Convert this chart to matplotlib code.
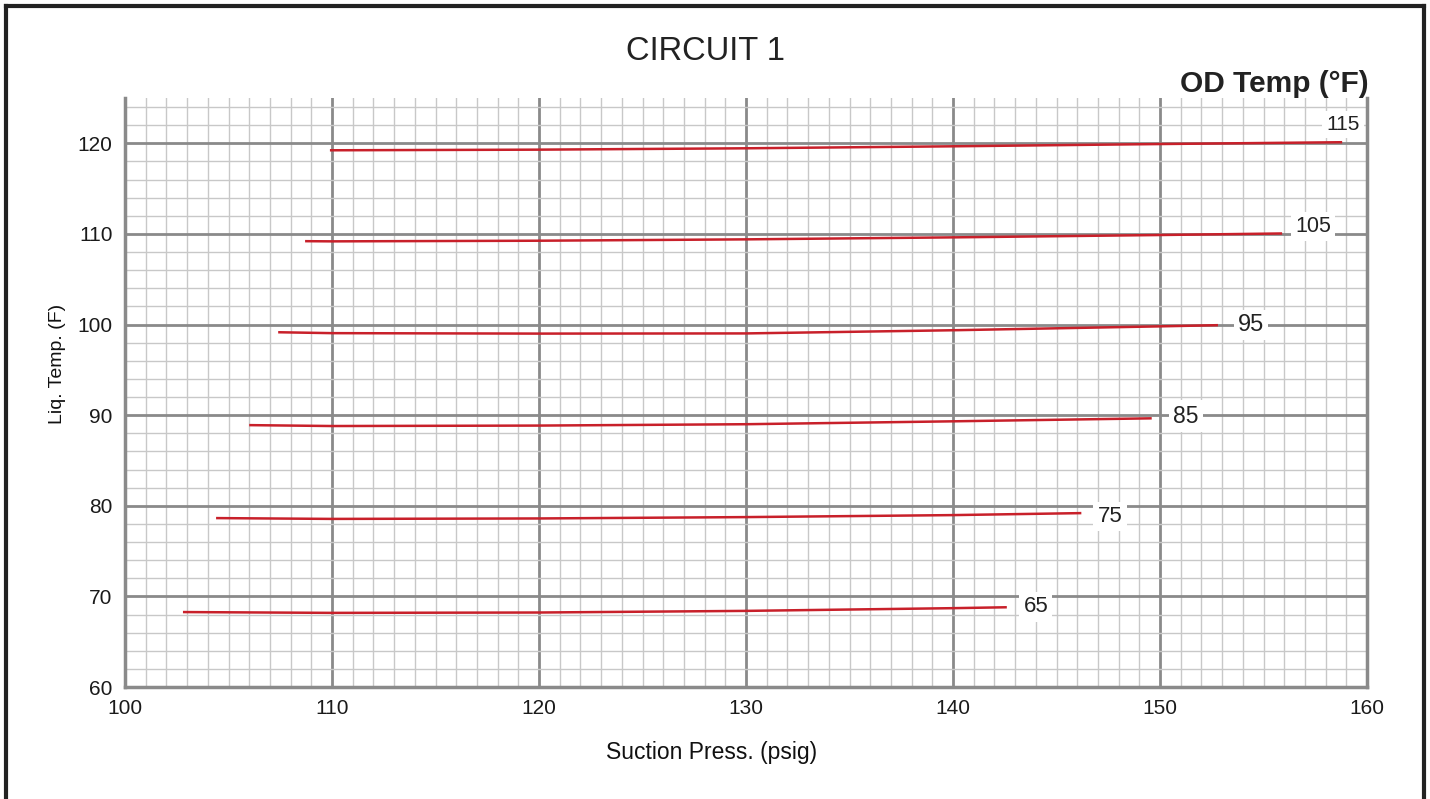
import matplotlib
matplotlib.use("Agg")
import matplotlib.pyplot as plt
from matplotlib.lines import Line2D
from matplotlib import font_manager
import numpy as np

plt.rcParams['font.family'] = ['Liberation Sans', 'DejaVu Sans']
_names = {f.name for f in font_manager.fontManager.ttflist}
NARROW = 'Liberation Sans Narrow' if 'Liberation Sans Narrow' in _names else None

# Curves: suction pressure (psig) vs liquid temp (F) for each OD temp
od_temps = [65, 75, 85, 95, 105, 115]
press = {
    65:  [102.8, 110, 120, 130, 140, 142.6],
    75:  [104.4, 110, 120, 130, 140, 146.2],
    85:  [106.0, 110, 120, 130, 140, 149.6],
    95:  [107.4, 110, 120, 130, 140, 150, 152.8],
    105: [108.7, 110, 120, 130, 140, 150, 155.9],
    115: [109.9, 120, 130, 140, 150, 158.8],
}
liq = {
    65:  [68.27, 68.18, 68.22, 68.40, 68.70, 68.80],
    75:  [78.64, 78.55, 78.60, 78.75, 78.97, 79.19],
    85:  [88.90, 88.80, 88.85, 89.00, 89.32, 89.65],
    95:  [99.15, 99.05, 99.00, 99.02, 99.37, 99.80, 99.93],
    105: [109.20, 109.18, 109.25, 109.40, 109.62, 109.88, 110.05],
    115: [119.23, 119.30, 119.45, 119.67, 119.92, 120.12],
}
label_pos = {
    65: (144.0, 68.84), 75: (147.58, 78.79), 85: (151.26, 89.9),
    95: (154.4, 99.93), 105: (157.39, 110.84), 115: (158.84, 122.09),
}
label_size = {65: 16, 75: 16, 85: 16.5, 95: 17, 105: 15.5, 115: 15}
x_ticks = [100, 110, 120, 130, 140, 150, 160]
y_ticks = [60, 70, 80, 90, 100, 110, 120]

W, H = 1430, 799
fig = plt.figure(figsize=(W/100, H/100), dpi=100)
ax = fig.add_axes([125/W, 1-687/H, (1367-125)/W, (687-98)/H])

ax.set_xlim(100, 160)
ax.set_ylim(60, 125)
ax.set_xticks(x_ticks)
ax.set_yticks(y_ticks)
ax.set_xticks(np.arange(100, 161, 1), minor=True)
ax.set_yticks(np.arange(60, 126, 2), minor=True)
ax.grid(which='minor', color='#c8c8c8', linewidth=1.0)
ax.grid(which='major', color='#8a8a8a', linewidth=2.0)
ax.set_axisbelow(True)
ax.tick_params(which='both', length=0)
ax.tick_params(axis='x', pad=9)
ax.tick_params(axis='y', pad=9)
for lab in ax.get_xticklabels() + ax.get_yticklabels():
    if NARROW:
        lab.set_fontfamily(NARROW)
        lab.set_fontsize(16)
    else:
        lab.set_fontsize(15)
    lab.set_color('#1a1a1a')
ax.spines['top'].set_visible(False)
for s in ['left', 'bottom', 'right']:
    ax.spines[s].set_color('#8a8a8a')
    ax.spines[s].set_linewidth(2.5)

for t in od_temps:
    ax.plot(press[t], liq[t], color='#c8202a', linewidth=1.8, solid_capstyle='butt')
    lx, ly = label_pos[t]
    ax.text(lx, ly, str(t), fontsize=label_size[t], color='#222222', ha='center', va='center',
            bbox=dict(facecolor='white', edgecolor='none', pad=3))

fig.text(712/W, 1-752/H, 'Suction Press. (psig)', fontsize=16.5, ha='center', va='center', color='#111111')
fig.text(58/W, 1-364/H, 'Liq. Temp. (F)', fontsize=14, ha='center', va='center', rotation=90, color='#111111')

fig.text(706/W, 1-52/H, 'CIRCUIT 1', fontsize=23.5, ha='center', va='center', color='#222222')
fig.text(1369/W, 1-84/H, 'OD Temp (°F)', fontsize=21.5, ha='right', va='center',
         color='#222222', fontweight='bold')

# outer frame
fig.add_artist(Line2D([6/W, 6/W], [0, 1-6/H], transform=fig.transFigure, color='#222222', linewidth=3))
fig.add_artist(Line2D([6/W, 1424/W], [1-6/H, 1-6/H], transform=fig.transFigure, color='#222222', linewidth=3))
fig.add_artist(Line2D([1424/W, 1424/W], [0, 1-6/H], transform=fig.transFigure, color='#222222', linewidth=3))

fig.savefig('out.png', dpi=100)
